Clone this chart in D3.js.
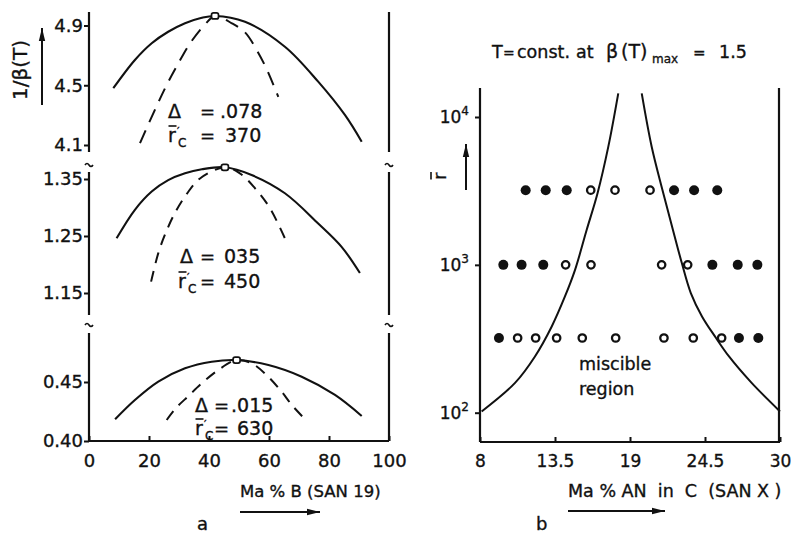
<!DOCTYPE html>
<html><head><meta charset="utf-8">
<script src="https://cdn.jsdelivr.net/npm/d3@7"></script>
<style>
body{margin:0;background:#fff}
svg{display:block}
text{font-family:"DejaVu Sans",sans-serif;fill:#111;stroke:#111;stroke-width:0.35px}
</style>
</head><body>
<svg id="chart" width="797" height="535"></svg>
<script>
// ---------- Panel a: 1/β(T) versus blend composition ----------
const compTicks = [0, 20, 40, 60, 80, 100];
const topTicks = [4.1, 4.5, 4.9];
const midTicks = [1.15, 1.25, 1.35];
const lowTicks = [0.40, 0.45];

const topSolid = [[8.1,4.480],[15.3,4.669],[20.9,4.781],[26.4,4.858],[32,4.915],[37.6,4.952],[42,4.964],[52,4.925],[65.3,4.758],[76.4,4.524],[85.3,4.301],[90.9,4.122]];
const topDashed = [[17,4.112],[22.2,4.346],[25.9,4.502],[29.6,4.640],[33.7,4.781],[38.7,4.908],[42,4.964],[47.6,4.915],[52,4.854],[55.9,4.736],[59.2,4.609],[63.1,4.423]];
const midSolid = [[9.2,1.246],[15.3,1.296],[20.9,1.328],[26.4,1.348],[32,1.360],[37.6,1.367],[45.3,1.3705],[54.2,1.357],[65.3,1.325],[76.4,1.272],[84.2,1.231],[90.3,1.185]];
const midDashed = [[20.7,1.170],[23.1,1.220],[25.6,1.256],[28.7,1.291],[32.6,1.324],[37,1.351],[45.3,1.3705],[50.3,1.360],[55.3,1.334],[60.3,1.299],[65.3,1.246]];
const lowSolid = [[8.7,0.4184],[15.3,0.4347],[23.1,0.4503],[32,0.4616],[40.9,0.4672],[49.2,0.4686],[59.8,0.4644],[70.9,0.4545],[82,0.4390],[90.9,0.4212]];
const lowDashed = [[25.9,0.4178],[29.2,0.4285],[33.1,0.4380],[37.6,0.4489],[43.1,0.4602],[49.2,0.4686],[54.2,0.4658],[59.2,0.4559],[64.2,0.4418],[67.6,0.4305],[71.4,0.4201]];
const peaks = [[42,4.964],[45.3,1.3705],[49.2,0.4686]];
const deltaLabels = [".078", "035", ".015"];
const rcLabels = ["370", "450", "630"];

// ---------- Panel b: miscibility map, r̄ versus AN content ----------
const anTicks = [8, 13.5, 19, 24.5, 30];
const anTickLabels = ["8", "13.5", "19", "24.5", "30"];
const rTicks = [100, 1000, 10000];
const rExponents = ["2", "3", "4"];
const leftBoundary = [[8.12,102],[10.57,159],[12.03,240],[13.26,383],[14.23,611],[14.97,925],[15.82,1720],[16.62,3050],[17.41,6300],[18.14,14450]];
const rightBoundary = [[19.86,14450],[20.59,6300],[21.38,3210],[22.15,1723],[22.79,1036],[23.46,644],[24.28,448],[25.23,328],[26.26,240],[27.92,159],[30,102]];
const rowR = [3200, 1000, 320];
const rowX = [
  [11.35,12.82,14.36,16.12,17.9,20.47,22.23,23.7,25.4],
  [9.71,11.05,12.64,14.28,16.14,21.32,23.23,25.04,26.9,28.34],
  [9.39,10.76,12.08,13.62,15.5,17.95,21.49,23.64,25.72,26.99,28.41]
];
// 1 = immiscible (filled), 0 = miscible (open)
const rowFilled = [
  [1,1,1,0,0,0,1,1,1],
  [1,1,1,0,0,0,0,1,1,1],
  [1,0,0,0,0,0,0,0,0,1,1]
];

const ink = "#111";
const svg = d3.select("#chart");

function seg(x1, y1, x2, y2, w = 2.2) {
  svg.append("line").attr("x1", x1).attr("y1", y1).attr("x2", x2).attr("y2", y2)
    .attr("stroke", ink).attr("stroke-width", w);
}
function arrow(x1, y1, x2, y2) {
  seg(x1, y1, x2, y2, 2);
  const a = Math.atan2(y2 - y1, x2 - x1), L = 13, W = 3.2;
  const bx = x2 - L * Math.cos(a), by = y2 - L * Math.sin(a);
  const px = -Math.sin(a) * W, py = Math.cos(a) * W;
  svg.append("path").attr("d", `M${x2},${y2}L${bx + px},${by + py}L${bx - px},${by - py}Z`).attr("fill", ink);
}
function tilde(cx, cy) {
  svg.append("path").attr("d", `M${cx - 4},${cy + 1} q2,-3 4,0 t4,0`)
    .attr("fill", "none").attr("stroke", ink).attr("stroke-width", 1.6);
}
function styleAxis(g, size) {
  g.select(".domain").remove();
  g.selectAll(".tick line").attr("stroke", ink).attr("stroke-width", 2);
  g.selectAll(".tick text").attr("fill", ink).attr("font-size", size)
    .attr("font-family", "DejaVu Sans, sans-serif");
}

// ---------- Panel a ----------
const xA = d3.scaleLinear().domain([0, 100]).range([89, 389]);
const bands = [
  { y: d3.scaleLinear().domain([4.1, 4.9]).range([145, 25.5]), ticks: topTicks, fmt: d3.format(".1f"),
    span: [12, 152], solid: topSolid, dashed: topDashed, dash: "14,9" },
  { y: d3.scaleLinear().domain([1.15, 1.35]).range([293, 179]), ticks: midTicks, fmt: d3.format(".2f"),
    span: [172, 315], solid: midSolid, dashed: midDashed, dash: "11,8" },
  { y: d3.scaleLinear().domain([0.40, 0.45]).range([441, 382]), ticks: lowTicks, fmt: d3.format(".2f"),
    span: [333, 441], solid: lowSolid, dashed: lowDashed, dash: "11,8" }
];

bands.forEach((b, i) => {
  seg(89, b.span[0], 89, b.span[1]);
  seg(389, b.span[0], 389, b.span[1]);
  const g = svg.append("g").attr("transform", "translate(89,0)")
    .call(d3.axisLeft(b.y).tickValues(b.ticks).tickSize(5).tickPadding(1).tickFormat(b.fmt));
  styleAxis(g, 18);

  const line = d3.line().x(d => xA(d[0])).y(d => b.y(d[1])).curve(d3.curveCatmullRom.alpha(0.5));
  svg.append("path").datum(b.solid).attr("d", line)
    .attr("fill", "none").attr("stroke", ink).attr("stroke-width", 2.1);
  svg.append("path").datum(b.dashed).attr("d", line)
    .attr("fill", "none").attr("stroke", ink).attr("stroke-width", 2).attr("stroke-dasharray", b.dash);

  const p = peaks[i];
  svg.append("rect").attr("x", xA(p[0]) - 3.5).attr("y", b.y(p[1]) - 3).attr("width", 7).attr("height", 6)
    .attr("rx", 2).attr("fill", "#fff").attr("stroke", ink).attr("stroke-width", 1.7);
});
[164, 324].forEach(y => { tilde(89, y); tilde(389, y); });

seg(89, 441, 389, 441);
const gxA = svg.append("g").attr("transform", "translate(0,441)")
  .call(d3.axisBottom(xA).tickValues(compTicks).tickSize(-5).tickPadding(13).tickFormat(d3.format("d")));
styleAxis(gxA, 18);

// Δ and r̄'c annotations
function rcLabel(x, y, eqX, value, valueX) {
  svg.append("text").attr("x", x).attr("y", y).attr("font-size", 19).text("r");
  seg(x + 0.5, y - 16, x + 8.5, y - 16, 1.6);
  svg.append("text").attr("x", x + 9).attr("y", y - 7).attr("font-size", 11).text("′");
  svg.append("text").attr("x", x + 10).attr("y", y + 5).attr("font-size", 12).text("C");
  svg.append("text").attr("x", eqX).attr("y", y).attr("font-size", 18).text("=");
  svg.append("text").attr("x", valueX).attr("y", y).attr("font-size", 19).text(value);
}
const annot = [
  { dx: 168, dy: 118, eq: 200, vx: 220, rx: 168, ry: 142, rv: 225 },
  { dx: 180, dy: 263, eq: 200, vx: 224, rx: 178, ry: 288, rv: 224 },
  { dx: 195, dy: 412, eq: 214, vx: 231, rx: 195, ry: 435, rv: 237 }
];
annot.forEach((a, i) => {
  svg.append("text").attr("x", a.dx).attr("y", a.dy).attr("font-size", 19).text("Δ");
  svg.append("text").attr("x", a.eq).attr("y", a.dy).attr("font-size", 18).text("=");
  svg.append("text").attr("x", a.vx).attr("y", a.dy).attr("font-size", 19).text(deltaLabels[i]);
  rcLabel(a.rx, a.ry, a.eq, rcLabels[i], a.rv);
});

// y label and arrow of panel a
svg.append("text").attr("transform", "translate(27,70) rotate(-90)").attr("text-anchor", "middle")
  .attr("font-size", 20).text("1/β(T)");
arrow(42, 105, 42, 28);

// x label and arrow of panel a
svg.append("text").attr("x", 240).attr("y", 497).attr("font-size", 16.5)
  .attr("font-family", "DejaVu Sans Condensed, DejaVu Sans, sans-serif")
  .text("Ma % B (SAN 19)");
arrow(240, 512, 320, 512);
svg.append("text").attr("x", 197).attr("y", 530).attr("font-size", 18).text("a");

// ---------- Panel b ----------
const xB = d3.scaleLinear().domain([8, 30]).range([480, 780]);
const yB = d3.scaleLog().domain([100, 10000]).range([412.7, 117]);

seg(480, 88, 480, 442);
seg(779, 88, 779, 442);
seg(480, 442, 780, 442);

const gyB = svg.append("g").attr("transform", "translate(480,0)")
  .call(d3.axisLeft(yB).tickValues(rTicks).tickSize(5).tickFormat(""));
styleAxis(gyB, 18);
rTicks.forEach((v, i) => {
  const t = svg.append("text").attr("x", 469).attr("y", yB(v) + 6).attr("text-anchor", "end").attr("font-size", 17);
  t.append("tspan").text("10");
  t.append("tspan").attr("dy", -8).attr("font-size", 12).text(rExponents[i]);
});

const gxB = svg.append("g").attr("transform", "translate(0,442)")
  .call(d3.axisBottom(xB).tickValues(anTicks).tickSize(-5).tickPadding(13).tickFormat((d, i) => anTickLabels[i]));
styleAxis(gxB, 17);

const bLine = d3.line().x(d => xB(d[0])).y(d => yB(d[1])).curve(d3.curveCatmullRom.alpha(0.5));
[leftBoundary, rightBoundary].forEach(c => {
  svg.append("path").datum(c).attr("d", bLine)
    .attr("fill", "none").attr("stroke", ink).attr("stroke-width", 2);
});

rowR.forEach((r, i) => {
  rowX[i].forEach((x, j) => {
    const filled = rowFilled[i][j] === 1;
    svg.append("circle").attr("cx", xB(x)).attr("cy", yB(r))
      .attr("r", filled ? 5 : 3.7)
      .attr("fill", filled ? ink : "#fff")
      .attr("stroke", filled ? "none" : ink).attr("stroke-width", 2.3);
  });
});

svg.append("text").attr("x", 579).attr("y", 370).attr("font-size", 17.5).text("miscible");
svg.append("text").attr("x", 579).attr("y", 395).attr("font-size", 17.5).text("region");

// title of panel b
const title = svg.append("text").attr("y", 58).attr("font-size", 17.5);
title.append("tspan").attr("x", 492).text("T");
title.append("tspan").attr("x", 503).attr("font-size", 14).text("=");
title.append("tspan").attr("x", 517).text("const.");
title.append("tspan").attr("x", 576).text("at");
title.append("tspan").attr("x", 606).attr("font-size", 19).text("β");
title.append("tspan").attr("x", 621).attr("font-size", 19).text("(T)");
title.append("tspan").attr("x", 652).attr("dy", 5).attr("font-size", 12).text("max");
title.append("tspan").attr("x", 693).attr("dy", -5).attr("font-size", 15).text("=");
title.append("tspan").attr("x", 719).text("1.5");

// y label and arrow of panel b
const rl = svg.append("g").attr("transform", "translate(446,180) rotate(-90)");
rl.append("text").attr("x", 0).attr("y", 0).attr("font-size", 18).text("r");
rl.append("line").attr("x1", 0.5).attr("y1", -15).attr("x2", 8).attr("y2", -15)
  .attr("stroke", ink).attr("stroke-width", 1.6);
arrow(466, 190, 466, 144);

// x label and arrow of panel b
svg.append("text").attr("x", 568).attr("y", 497).attr("font-size", 17.5)
  .attr("font-family", "DejaVu Sans Condensed, DejaVu Sans, sans-serif").attr("xml:space", "preserve")
  .text("Ma % AN  in  C  (SAN X )");
arrow(568, 511, 665, 511);
svg.append("text").attr("x", 536).attr("y", 530).attr("font-size", 18).text("b");
</script>
</body></html>
